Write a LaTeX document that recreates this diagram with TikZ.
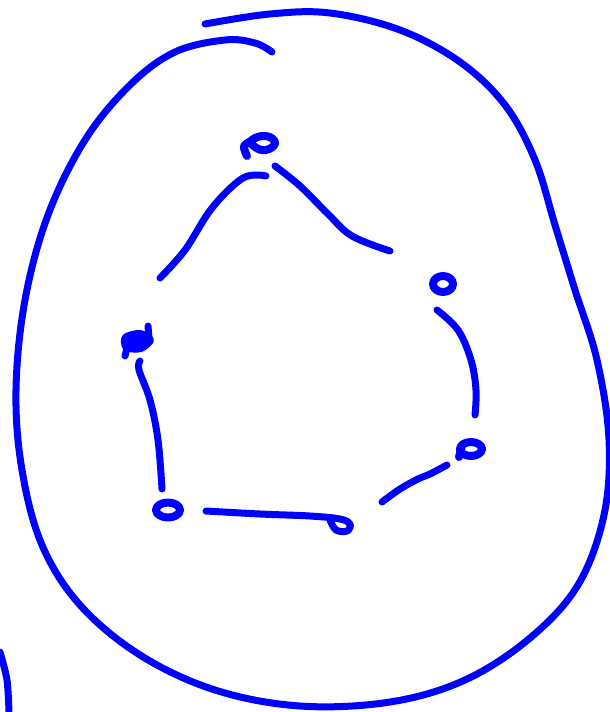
\documentclass[tikz,border=0pt]{standalone}
\usepackage{tikz}

\tikzset{
  ink/.style={draw=blue, line width=7pt, line cap=round, line join=round},
  dotink/.style={draw=blue, line width=8pt, line cap=round, line join=round},
  blob/.style={draw=blue, fill=blue, line width=6pt, line cap=round, line join=round}
}

\begin{document}
\begin{tikzpicture}[x=1pt, y=-1pt]
\useasboundingbox (0,0) rectangle (610,712);
% outer loop, open at the top
\draw[ink] plot[smooth, tension=0.6] coordinates {
  (205,24) (270,14) (330,13) (400,30) (460,62) (505,105) (535,160)
  (555,225) (575,290) (597,360) (609,440) (604,515) (578,585)
  (530,638) (465,680) (390,702) (300,706) (215,690) (140,655)
  (80,605) (42,545) (22,470) (16,390) (25,300) (48,215) (85,140)
  (130,85) (175,52) (225,40) (255,43) (272,52)};
% corner at the bottom left
\draw[ink] plot[smooth] coordinates {(0,652) (7,680) (9,712)};
% dots
\draw[dotink] plot[smooth cycle, tension=0.8] coordinates {(252,140) (266,136) (275,143) (266,150) (255,147)};
\draw[dotink] plot[smooth] coordinates {(253,140) (244,146) (247,156)};
\draw[dotink] (443,284) ellipse (10 and 8);
\draw[dotink] (471,449) ellipse (11 and 7);
\draw[dotink] (462,445) -- (459,457);
\draw[dotink] (168,510) ellipse (12 and 7.5);
\draw[blob] plot[smooth cycle] coordinates {(125,337) (140,333) (151,340) (141,349) (126,348)};
\draw[ink] (128,344) -- (125,356);
\draw[ink] (148,326) -- (149,338);
% sides
\draw[ink] plot[smooth, tension=0.6] coordinates {(266,176) (243,178) (212,208) (185,250) (160,278)};
\draw[ink] plot[smooth, tension=0.6] coordinates {(275,166) (300,186) (328,214) (352,236) (390,251)};
\draw[ink] plot[smooth, tension=0.6] coordinates {(437,310) (458,330) (471,360) (476,390) (475,415)};
\draw[ink] plot[smooth, tension=0.6] coordinates {(447,465) (430,474) (418,479) (400,489) (382,502)};
\draw[ink] plot[smooth, tension=0.6] coordinates {(206,511) (260,514) (310,516) (340,519) (350,524) (347,531) (336,530) (330,520)};
\draw[ink] plot[smooth, tension=0.6] coordinates {(162,489) (158,440) (150,400) (139,370) (140,361)};
\end{tikzpicture}
\end{document}
